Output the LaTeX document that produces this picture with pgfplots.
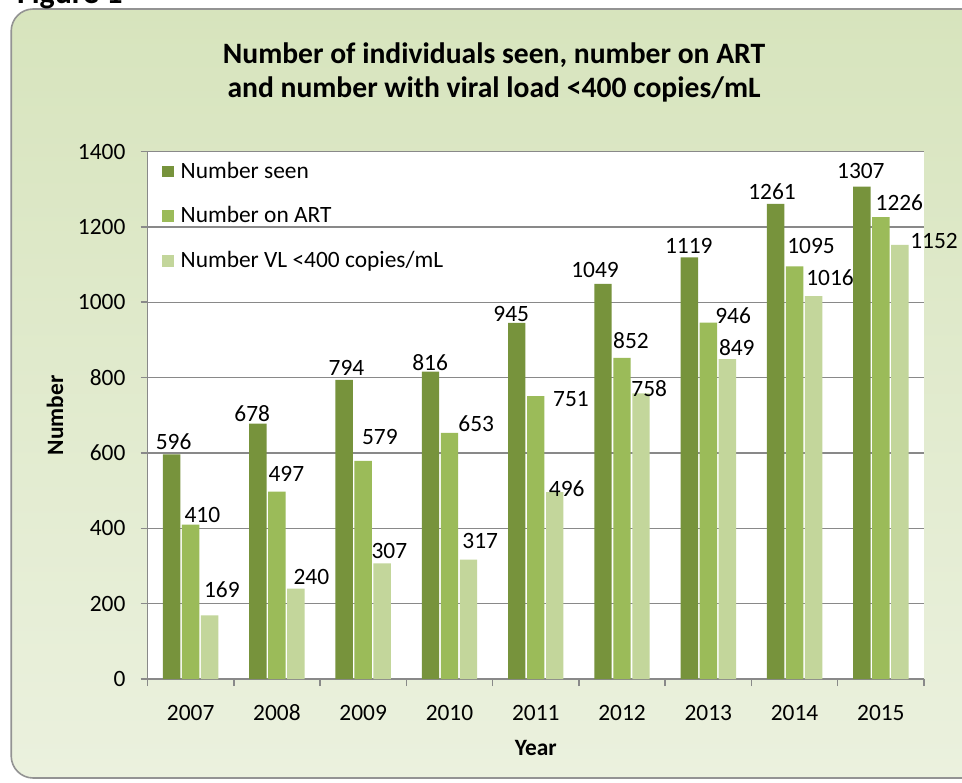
\documentclass[border=0pt]{standalone}
\usepackage{fontspec}
\setmainfont{Carlito}
\usepackage{pgfplots}
\usepackage{pgfplotstable}
\pgfplotsset{compat=1.18}

\definecolor{seen}{HTML}{77933C}
\definecolor{art}{HTML}{9BBB59}
\definecolor{vl}{HTML}{C3D69B}
\definecolor{gridgray}{HTML}{898989}
\definecolor{paneltop}{HTML}{D7E4BD}
\definecolor{panelbot}{HTML}{EBF1DE}

% x = year index, y = count, dx/dy = label offset (pt) from bar top
\pgfplotstableread{
x y dx dy
0 596 1.0 6.2
1 678 -2.85 4.75
2 794 1.15 6.15
3 816 -0.2 4.5
4 945 -2.75 4.45
5 1049 -4.0 6.85
6 1119 -0.25 5.8
7 1261 -1.75 6.05
8 1307 -0.5 7.9
}\seen
\pgfplotstableread{
x y dx dy
0 410 5.85 4.75
1 497 4.75 8.85
2 579 8.35 11.9
3 653 13.4 4.5
4 751 17.6 -1.5
5 852 4.45 8.5
6 946 12.4 3.35
7 1095 8.25 10.3
8 1226 9.25 7.3
}\art
\pgfplotstableread{
x y dx dy
0 169 6.1 12.65
1 240 7.75 5.55
2 307 3.6 6.15
3 317 5.9 9.3
4 496 6.0 1.55
5 758 4.1 2.2
6 849 4.75 5.8
7 1016 8.25 9.35
8 1152 17.1 2.1
}\vl

\pgfplotsset{
  barlabels/.style={
    visualization depends on=\thisrow{dx} \as \labdx,
    visualization depends on=\thisrow{dy} \as \labdy,
    nodes near coords,
    nodes near coords style={anchor=center, xshift=\labdx pt, yshift=\labdy pt,
      font=\fontsize{11.7}{14}\selectfont, text=black},
  },
}

\begin{document}
\begin{tikzpicture}
\useasboundingbox (0,0) rectangle (481pt,391pt);
\shade[top color=paneltop, bottom color=panelbot, rounded corners=11pt]
  (5.6pt,2pt) rectangle (500pt,386.5pt);
\draw[color=gray!85, line width=0.8pt, rounded corners=11pt]
  (5.6pt,2pt) rectangle (500pt,386.5pt);
\node[anchor=base west, font=\fontsize{16}{16}\selectfont\bfseries] at (5pt,389.3pt) {Figure 1};
\node[align=center, font=\fontsize{14.8}{17}\selectfont\bfseries] at (247pt,355pt)
  {Number of individuals seen, number on ART\\and number with viral load <400 copies/mL};

\begin{axis}[
  at={(73.75pt,51.5pt)}, anchor=south west,
  scale only axis, width=388.25pt, height=263.75pt,
  clip=false,
  axis background/.style={fill=white},
  ybar, bar width=8.7pt,
  xmin=-0.5, xmax=8.5, ymin=0, ymax=1400,
  axis x line*=bottom, axis y line*=left,
  axis line style={draw=gridgray, line width=0.75pt},
  xtick={-0.5,0.5,...,8.5}, xticklabels={},
  extra x ticks={0,1,2,3,4,5,6,7,8},
  extra x tick labels={2007,2008,2009,2010,2011,2012,2013,2014,2015},
  extra x tick style={major tick length=0pt,
    xticklabel style={anchor=base, yshift=-20.5pt}},
  ytick={0,200,...,1400},
  tick align=outside, major tick length=3.5pt,
  tick style={draw=gridgray, line width=0.75pt},
  ymajorgrids, grid style={draw=gridgray, line width=0.7pt},
  tick label style={font=\fontsize{11.7}{14}\selectfont},
  yticklabel style={xshift=-4pt},
  /pgf/number format/1000 sep={},
  /pgf/number format/assume math mode=true,
  xlabel={Year}, ylabel={Number},
  label style={font=\fontsize{11.7}{14}\selectfont\bfseries},
  xlabel style={at={(axis description cs:0.5,-0.1308)}, anchor=center},
  ylabel style={at={(axis description cs:-0.1191,0.5)}, anchor=center},
  legend style={draw=none, fill=none, at={(0,1)}, anchor=north west,
    xshift=4pt, yshift=-1pt, row sep=8.8pt,
    font=\fontsize{11.7}{14}\selectfont},
  legend cell align=left,
  legend image code/.code={\fill[#1] (0pt,-2.9pt) rectangle (5.85pt,2.95pt); \path (7.4pt,0pt);},
]
\addlegendimage{fill=seen, draw=none}
\addlegendentry{Number seen}
\addlegendimage{fill=art, draw=none}
\addlegendentry{Number on ART}
\addlegendimage{fill=vl, draw=none}
\addlegendentry{Number VL <400 copies/mL}
\addplot[fill=seen, draw=none, bar shift=-9.5pt, barlabels, forget plot] table[x=x,y=y] {\seen};
\addplot[fill=art, draw=none, bar shift=0pt, barlabels, forget plot] table[x=x,y=y] {\art};
\addplot[fill=vl, draw=none, bar shift=9.5pt, barlabels, forget plot] table[x=x,y=y] {\vl};
\end{axis}
\end{tikzpicture}
\end{document}
